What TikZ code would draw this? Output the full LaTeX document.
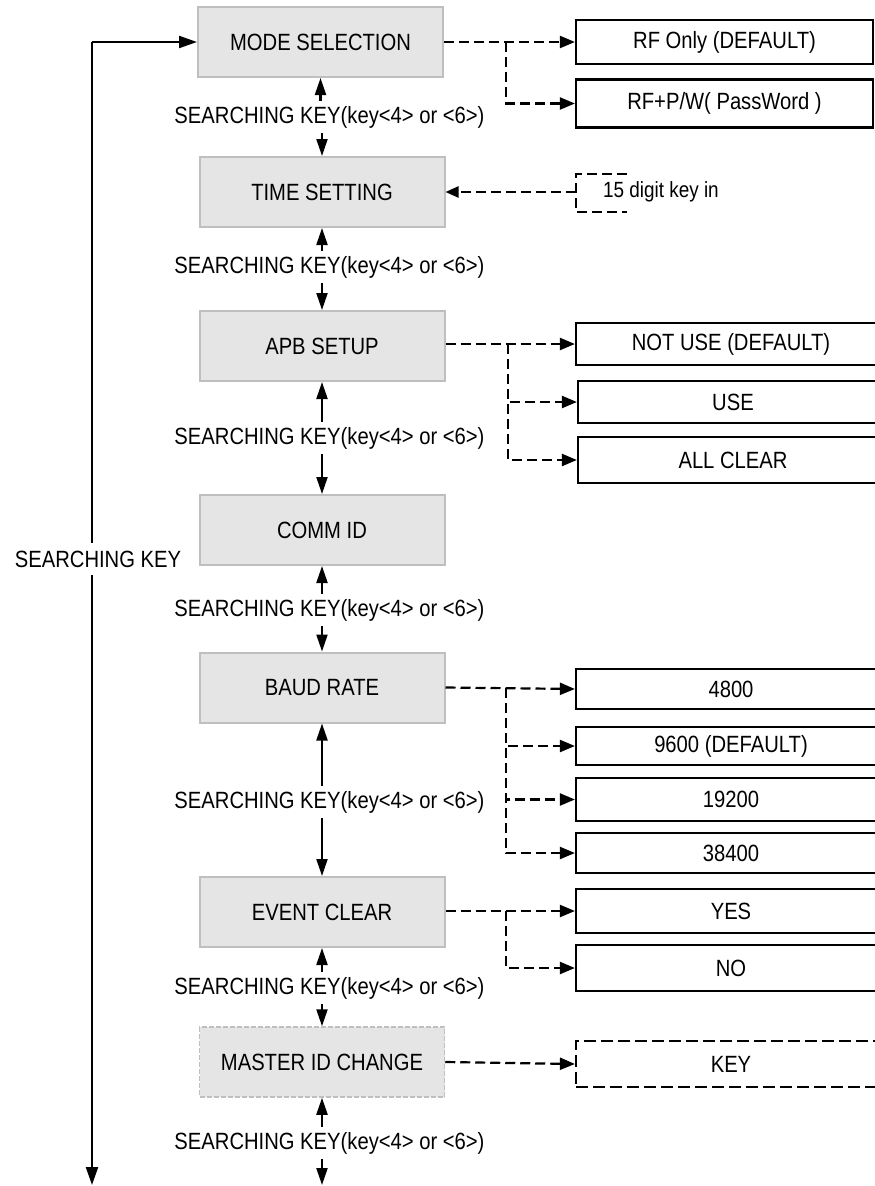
\documentclass[tikz,border=0pt]{standalone}
\usepackage{fontspec}
\setmainfont[FakeStretch=0.86]{Liberation Sans}
\usetikzlibrary{arrows.meta}
\begin{document}
\begin{tikzpicture}[x=1pt,y=-1pt,
  font=\fontsize{23.5}{27}\selectfont,
  line width=2.2pt,
  graybox/.style={draw=black!25, fill=black!10, minimum width=245pt, minimum height=70pt, inner sep=0pt, line width=2pt},
  optbox/.style={draw=black, line width=2.2pt, inner sep=0pt},
  arr/.style={-{Triangle[length=17pt,width=11pt]}},
  looparr/.style={-{Triangle[length=18pt,width=12pt]}},
  dpat/.style={dash pattern=on 10pt off 5pt},
  darr/.style={-{Triangle[length=15pt,width=12pt]}, dpat},
  lbl/.style={inner sep=4pt},
]
\useasboundingbox (0,0) rectangle (875,1186);
\clip (0,0) rectangle (875,1186);

% main boxes
\node[graybox] (mode) at (320.5,42) {MODE SELECTION};
\node[graybox] (time) at (322,192) {TIME SETTING};
\node[graybox] (apb) at (322,346) {APB SETUP};
\node[graybox] (comm) at (322,530) {COMM ID};
\node[graybox] (baud) at (322,687.5) {BAUD RATE};
\node[graybox] (event) at (322,912) {EVENT CLEAR};
\node[graybox, draw=black!25, dash pattern=on 5pt off 2pt, line width=1.5pt] (master) at (322,1062) {MASTER ID CHANGE};

% labels between boxes
\node[lbl] (s1) at (329.5,117) {SEARCHING KEY(key<4> or <6>)};
\node[lbl] (s2) at (329.5,267) {SEARCHING KEY(key<4> or <6>)};
\node[lbl] (s3) at (329.5,438) {SEARCHING KEY(key<4> or <6>)};
\node[lbl] (s4) at (329.5,610) {SEARCHING KEY(key<4> or <6>)};
\node[lbl] (s5) at (329.5,802) {SEARCHING KEY(key<4> or <6>)};
\node[lbl] (s6) at (329.5,988) {SEARCHING KEY(key<4> or <6>)};
\node[lbl] (s7) at (329.5,1143) {SEARCHING KEY(key<4> or <6>)};

\draw[arr] (mode.south |- s1.north) -- (mode.south);
\draw[arr] (time.north |- s1.south) -- (time.north);
\draw[arr] (time.south |- s2.north) -- (time.south);
\draw[arr] (apb.north |- s2.south) -- (apb.north);
\draw[arr] (apb.south |- s3.north) -- (apb.south);
\draw[arr] (comm.north |- s3.south) -- (comm.north);
\draw[arr] (comm.south |- s4.north) -- (comm.south);
\draw[arr] (baud.north |- s4.south) -- (baud.north);
\draw[arr] (baud.south |- s5.north) -- (baud.south);
\draw[arr] (event.north |- s5.south) -- (event.north);
\draw[arr] (event.south |- s6.north) -- (event.south);
\draw[arr] (master.north |- s6.south) -- (master.north);
\draw[arr] (master.south |- s7.north) -- (master.south);
\coordinate (bend) at (322,1185);
\draw[arr] (master.south |- s7.south) -- (bend);

% left loop
\coordinate (lt) at (92,42);
\coordinate (lb) at (92,1185);
\draw[looparr] (lt) -- (mode.west);
\draw[looparr] (lt) -- (lb);
\node[fill=white, inner sep=8pt] (sk) at (98,559) {SEARCHING KEY};

% option boxes
\node[optbox, minimum width=297pt, minimum height=44pt] (rf1) at (724.5,42) {RF Only (DEFAULT)};
\node[optbox, minimum width=297pt, minimum height=48pt] (rf2) at (724.5,103.5) {RF+P/W( PassWord )};
\node[optbox, minimum width=310pt, minimum height=42pt] (nu) at (731,344) {NOT USE (DEFAULT)};
\node[optbox, minimum width=310pt, minimum height=42pt] (use) at (733,402) {USE};
\node[optbox, minimum width=310pt, minimum height=46pt] (ac) at (733,460) {ALL CLEAR};
\node[optbox, minimum width=310pt, minimum height=40pt] (b48) at (731,689) {4800};
\node[optbox, minimum width=310pt, minimum height=38pt] (b96) at (731,746) {9600 (DEFAULT)};
\node[optbox, minimum width=310pt, minimum height=43pt] (b192) at (731,799.5) {19200};
\node[optbox, minimum width=310pt, minimum height=40pt] (b384) at (731,853) {38400};
\node[optbox, minimum width=310pt, minimum height=44pt] (yes) at (731,911) {YES};
\node[optbox, minimum width=310pt, minimum height=46pt] (no) at (731,968) {NO};
\node[optbox, dash pattern=on 12pt off 5pt, minimum width=310pt, minimum height=46pt] (key) at (731,1064) {KEY};

% branch connectors
\coordinate (j1) at (506,42);
\draw[darr] (mode.east) -- (rf1.west);
\draw[darr] (j1) |- (rf2.west);

\coordinate (j3) at (508,344);
\draw[darr] (apb.east |- nu.west) -- (nu.west);
\draw[darr] (j3) |- (use.west);
\draw[darr] (j3) |- (ac.west);

\coordinate (j5) at (506,688);
\draw[darr] (baud.east) -- (b48.west);
\draw[darr] (j5) |- (b96.west);
\draw[darr] (j5) |- (b192.west);
\draw[darr] (j5) |- (b384.west);

\coordinate (j6) at (506,911);
\draw[darr] (event.east |- yes.west) -- (yes.west);
\draw[darr] (j6) |- (no.west);

\draw[darr] (master.east) -- (key.west);

% 15 digit key in
\node[anchor=west, inner sep=0pt, font=\fontsize{22}{26}\selectfont] (dig) at (602,192) {15 digit key in};
\coordinate (dtl) at (576,174);
\coordinate (dtr) at (627,174);
\coordinate (dbl) at (576,212);
\coordinate (dbr) at (627,212);
\coordinate (dmid) at (576,192);
\draw[dpat] (dtr) -- (dtl) -- (dbl) -- (dbr);
\draw[-{Triangle[length=13pt,width=11pt]}, dpat] (dmid) -- (time.east);
\end{tikzpicture}
\end{document}
